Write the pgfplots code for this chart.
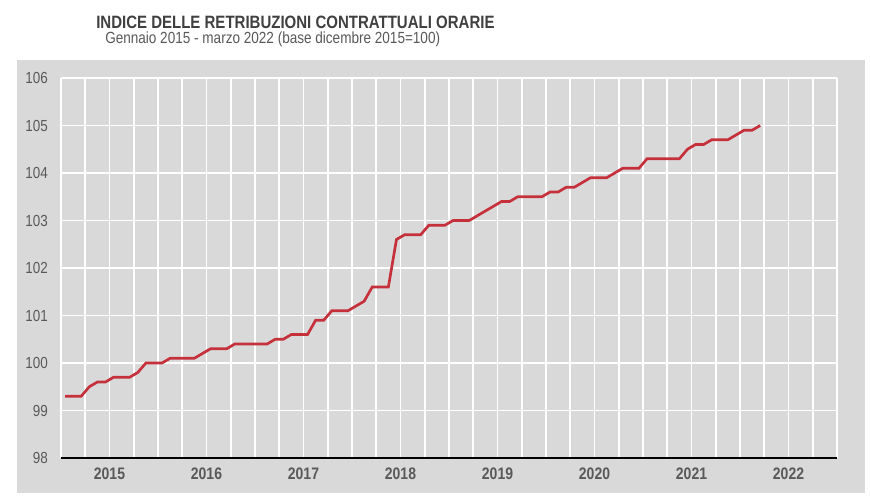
\documentclass[border=0pt]{standalone}
\usepackage{fontspec}
\setmainfont{Liberation Sans}[FakeStretch=0.84]
\usepackage{pgfplots}
\pgfplotsset{compat=1.18}

\definecolor{panel}{RGB}{217,217,217}
\definecolor{tickgray}{RGB}{89,89,89}
\definecolor{titlegray}{RGB}{64,64,64}
\definecolor{istatred}{RGB}{198,48,58}

\begin{document}
\begin{tikzpicture}
% page and grey panel (1 px of the reference = 0.75pt)
\fill[white] (0pt,0pt) rectangle (652.5pt,-376.5pt);
\fill[panel] (12.75pt,-45pt) rectangle (648.75pt,-369.75pt);

\node[anchor=base west, inner sep=0pt, text=titlegray,
      font=\fontsize{13.4}{15}\selectfont\bfseries] at (72pt,-21.2pt)
      {INDICE DELLE RETRIBUZIONI CONTRATTUALI ORARIE};
\node[anchor=base west, inner sep=0pt, text=tickgray,
      font=\fontsize{12.1}{14}\selectfont] at (78.75pt,-32.6pt)
      {Gennaio 2015 - marzo 2022 (base dicembre 2015=100)};

\begin{axis}[
    at={(45.75pt,-343.5pt)}, anchor=south west,
    scale only axis,
    width=582pt, height=285pt,
    xmin=0, xmax=96,
    ymin=98, ymax=106,
    xtick={6,18,...,90},
    xticklabels={2015,2016,2017,2018,2019,2020,2021,2022},
    minor xtick={0,3,...,96},
    ytick={98,99,...,106},
    xmajorgrids=false, xminorgrids=true, ymajorgrids=true,
    major grid style={white, line width=1.4pt},
    minor grid style={white, line width=1.4pt},
    major tick length=0pt, minor tick length=0pt,
    tick style={draw=none},
    axis line style={draw=none},
    /pgf/number format/assume math mode=true,
    yticklabel style={anchor=east, inner sep=0pt, xshift=-9.75pt,
        text=tickgray, font=\fontsize{12}{14}\selectfont},
    xticklabel style={anchor=north, inner sep=0pt, yshift=-7.5pt,
        text=tickgray, font=\fontsize{12.5}{14}\selectfont\bfseries},
]
\addplot[istatred, line width=2pt, no marks] coordinates {
 (0.5,99.3) (1.5,99.3) (2.5,99.3) (3.5,99.5) (4.5,99.6) (5.5,99.6)
 (6.5,99.7) (7.5,99.7) (8.5,99.7) (9.5,99.8) (10.5,100.0) (11.5,100.0)
 (12.5,100.0) (13.5,100.1) (14.5,100.1) (15.5,100.1) (16.5,100.1) (17.5,100.2)
 (18.5,100.3) (19.5,100.3) (20.5,100.3) (21.5,100.4) (22.5,100.4) (23.5,100.4)
 (24.5,100.4) (25.5,100.4) (26.5,100.5) (27.5,100.5) (28.5,100.6) (29.5,100.6)
 (30.5,100.6) (31.5,100.9) (32.5,100.9) (33.5,101.1) (34.5,101.1) (35.5,101.1)
 (36.5,101.2) (37.5,101.3) (38.5,101.6) (39.5,101.6) (40.5,101.6) (41.5,102.6)
 (42.5,102.7) (43.5,102.7) (44.5,102.7) (45.5,102.9) (46.5,102.9) (47.5,102.9)
 (48.5,103.0) (49.5,103.0) (50.5,103.0) (51.5,103.1) (52.5,103.2) (53.5,103.3)
 (54.5,103.4) (55.5,103.4) (56.5,103.5) (57.5,103.5) (58.5,103.5) (59.5,103.5)
 (60.5,103.6) (61.5,103.6) (62.5,103.7) (63.5,103.7) (64.5,103.8) (65.5,103.9)
 (66.5,103.9) (67.5,103.9) (68.5,104.0) (69.5,104.1) (70.5,104.1) (71.5,104.1)
 (72.5,104.3) (73.5,104.3) (74.5,104.3) (75.5,104.3) (76.5,104.3) (77.5,104.5)
 (78.5,104.6) (79.5,104.6) (80.5,104.7) (81.5,104.7) (82.5,104.7) (83.5,104.8)
 (84.5,104.9) (85.5,104.9) (86.5,105.0)
};
\draw[black, line width=1.2pt] (axis cs:0,98) -- (axis cs:96,98);
\end{axis}
\end{tikzpicture}
\end{document}
